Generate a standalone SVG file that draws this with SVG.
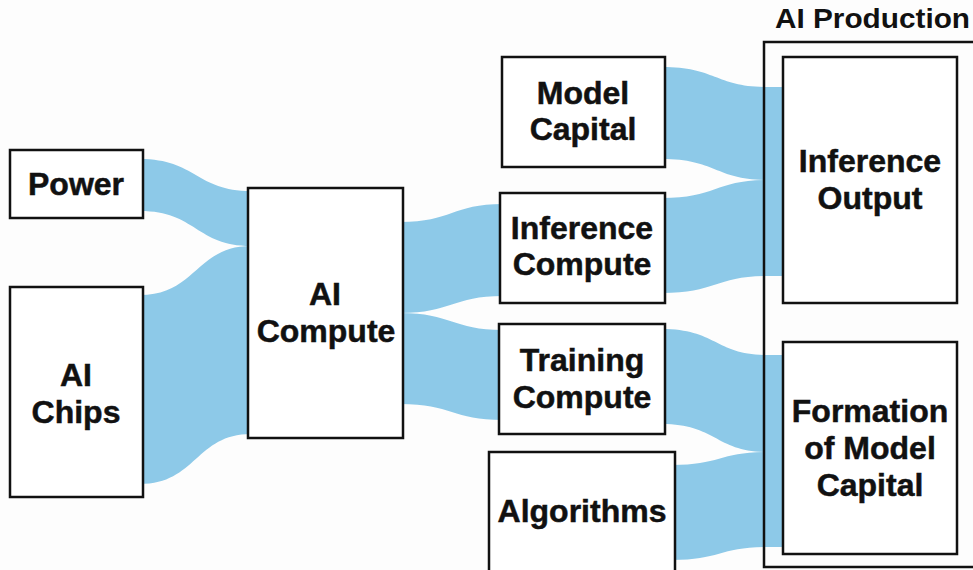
<svg xmlns="http://www.w3.org/2000/svg" width="973" height="570" viewBox="0 0 973 570">
<style>
.flow{fill:#8dc9e8;stroke:none}
.box{fill:#ffffff;stroke:#111111;stroke-width:2.5}
.lbl{font-family:"Liberation Sans",Arial,Helvetica,sans-serif;font-weight:bold;font-size:32px;fill:#111111;stroke:#111111;stroke-width:0.5;text-anchor:middle}
.title{font-family:"Liberation Sans",Arial,Helvetica,sans-serif;font-weight:bold;font-size:28px;fill:#111111}
</style>
<rect x="0" y="0" width="973" height="570" fill="#fdfdfd"/>
<g id="connectors">
<path class="flow" d="M140 159 C196 159 196 191 251 191 L251 246 C196 246 196 211 140 211 Z"/>
<path class="flow" d="M140 295 C196 295 196 246 251 246 L251 434 C196 434 196 484 140 484 Z"/>
<path class="flow" d="M400 222 C452 222 452 204 503 204 L503 296 C452 296 452 313 400 313 Z"/>
<path class="flow" d="M400 313 C452 313 452 330 503 330 L503 420 C452 420 452 404 400 404 Z"/>
<path class="flow" d="M662 67 C716 67 716 87 767 87 L786 87 L786 180 L767 180 C716 180 716 159 662 159 Z"/>
<path class="flow" d="M662 198 C716 198 716 180 767 180 L786 180 L786 276 L767 276 C716 276 716 293 662 293 Z"/>
<path class="flow" d="M662 329 C716 329 716 355 767 355 L786 355 L786 452 L767 452 C716 452 716 424 662 424 Z"/>
<path class="flow" d="M672 465 C720 465 720 452 767 452 L786 452 L786 547 L767 547 C720 547 720 560 672 560 Z"/>
</g>
<g id="ai-production">
<rect x="764" y="42" width="230" height="525" fill="none" stroke="#111111" stroke-width="2.5"/>
<text class="title" x="775" y="28" textLength="195" lengthAdjust="spacingAndGlyphs">AI Production</text>
</g>
<g id="power">
<rect class="box" x="10" y="150" width="133" height="68"/>
<text class="lbl" x="76" y="195">Power</text>
</g>
<g id="ai-chips">
<rect class="box" x="10" y="287" width="133" height="210"/>
<text class="lbl" x="76" y="386">AI</text>
<text class="lbl" x="76" y="423">Chips</text>
</g>
<g id="ai-compute">
<rect class="box" x="248" y="188" width="155" height="250"/>
<text class="lbl" x="325" y="305">AI</text>
<text class="lbl" x="326" y="342">Compute</text>
</g>
<g id="model-capital">
<rect class="box" x="502" y="57" width="163" height="110"/>
<text class="lbl" x="583" y="104">Model</text>
<text class="lbl" x="583" y="140">Capital</text>
</g>
<g id="inference-compute">
<rect class="box" x="500" y="193" width="165" height="110"/>
<text class="lbl" x="582" y="239">Inference</text>
<text class="lbl" x="582" y="275">Compute</text>
</g>
<g id="training-compute">
<rect class="box" x="499" y="324" width="166" height="110"/>
<text class="lbl" x="582" y="371">Training</text>
<text class="lbl" x="582" y="408">Compute</text>
</g>
<g id="algorithms">
<rect class="box" x="489" y="452" width="186" height="125"/>
<text class="lbl" x="582" y="522">Algorithms</text>
</g>
<g id="inference-output">
<rect class="box" x="783" y="57" width="174" height="246"/>
<text class="lbl" x="870" y="172">Inference</text>
<text class="lbl" x="870" y="209">Output</text>
</g>
<g id="formation-model-capital">
<rect class="box" x="783" y="342" width="174" height="212"/>
<text class="lbl" x="870" y="422">Formation</text>
<text class="lbl" x="870" y="459">of Model</text>
<text class="lbl" x="870" y="496">Capital</text>
</g>
</svg>
